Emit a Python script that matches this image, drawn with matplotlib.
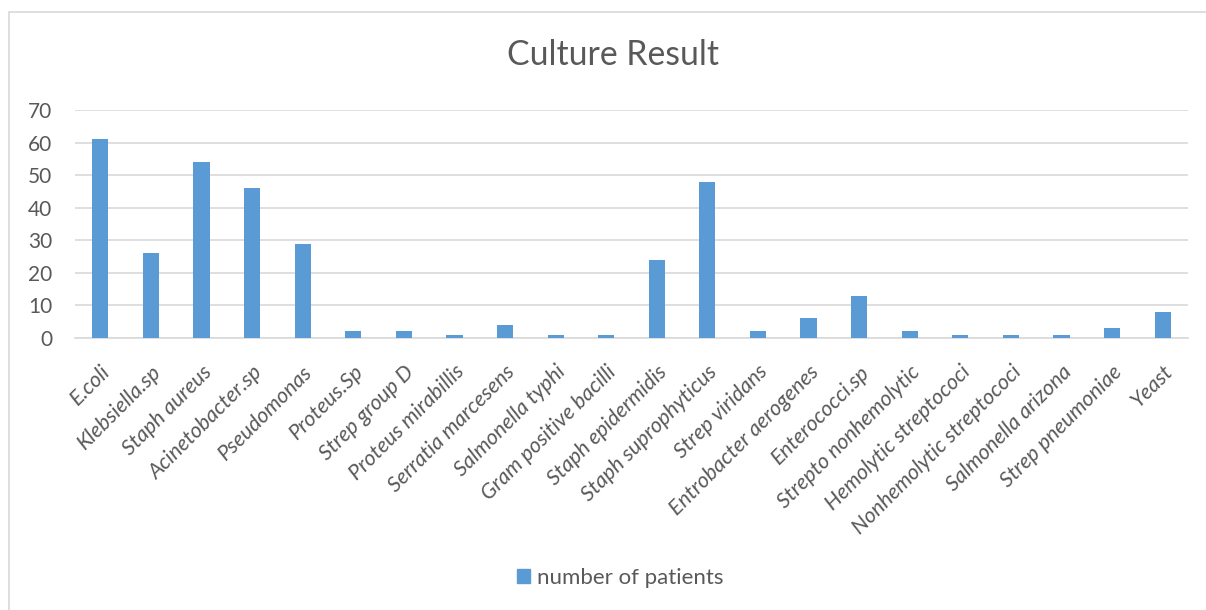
import matplotlib
matplotlib.use("Agg")
import matplotlib.pyplot as plt
from matplotlib.patches import Rectangle, Patch

categories = ["E.coli", "Klebsiella.sp", "Staph aureus", "Acinetobacter.sp", "Pseudomonas",
              "Proteus.Sp", "Strep group D", "Proteus mirabillis", "Serratia marcesens",
              "Salmonella typhi", "Gram positive bacilli", "Staph epidermidis",
              "Staph suprophyticus", "Strep viridans", "Entrobacter aerogenes",
              "Enterococci.sp", "Strepto nonhemolytic", "Hemolytic streptococi",
              "Nonhemolytic streptococi", "Salmonella arizona", "Strep pneumoniae", "Yeast"]
patients = [61, 26, 54, 46, 29, 2, 2, 1, 4, 1, 1, 24, 48, 2, 6, 13, 2, 1, 1, 1, 3, 8]
yticks = [0, 10, 20, 30, 40, 50, 60, 70]
series_name = "number of patients"
title = "Culture Result"

plt.rcParams['font.family'] = ['Lato', 'DejaVu Sans']
txt = "#595959"
bar_color = "#5B9BD5"
grid = "#D9D9D9"

fig = plt.figure(figsize=(12.06, 6.10), dpi=100)
fig.patches.append(Rectangle((9/1206, -0.1), 1.2, 1.1 - 12/610,
                             transform=fig.transFigure, fill=False,
                             edgecolor="#D9D9D9", linewidth=1.2))

ax = fig.add_axes([75/1206, 1 - 338/610, (1188-75)/1206, (338-110)/610])
x = range(len(categories))
ax.bar(x, patients, width=0.32, color=bar_color, zorder=3)
ax.set_xlim(-0.5, len(categories) - 0.5)
ax.set_ylim(0, 70)
ax.set_yticks(yticks)
ax.set_yticklabels([str(v) for v in yticks], fontsize=15, color=txt)
ax.yaxis.grid(True, color=grid, linewidth=1.2, zorder=0)
ax.set_xticks(list(x))
ax.set_xticklabels(categories, rotation=45, ha='right', rotation_mode='anchor',
                   fontsize=15.5, color=txt, style='italic')
ax.tick_params(axis='both', length=0)
ax.tick_params(axis='y', pad=16.5)
ax.tick_params(axis='x', pad=17)
for s in ['top', 'right', 'left']:
    ax.spines[s].set_visible(False)
ax.spines['bottom'].set_color(grid)
ax.spines['bottom'].set_linewidth(1.2)

fig.text(613/1206, 1 - 55/610, title, ha='center', va='center', fontsize=24.3, color=txt)

leg = fig.legend(handles=[Patch(color=bar_color, label=series_name)],
                 loc='center', bbox_to_anchor=(620/1206, 1 - 578/610), frameon=False,
                 fontsize=16, handlelength=0.6, handleheight=0.6, handletextpad=0.3)
for t in leg.get_texts():
    t.set_color(txt)

fig.savefig("out.png", dpi=100)
